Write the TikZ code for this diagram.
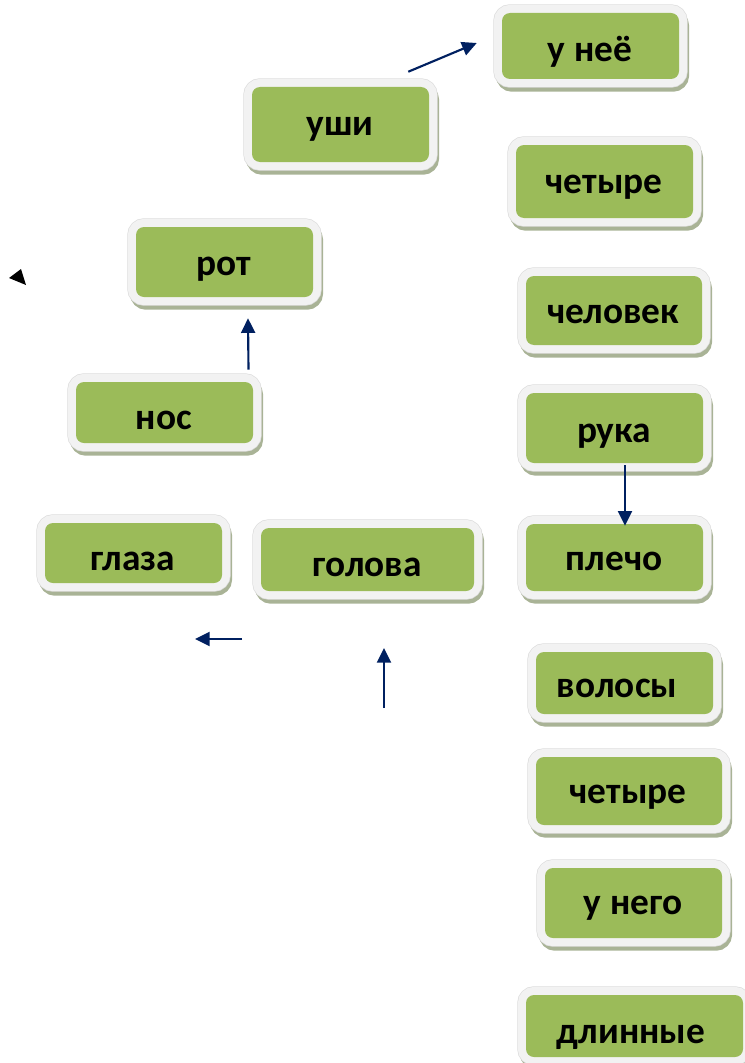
\documentclass[tikz,border=0pt]{standalone}
\usepackage{fontspec}
\setmainfont{Carlito}
\usetikzlibrary{arrows.meta,calc}
\definecolor{gcol}{HTML}{9BBB59}
\definecolor{frcol}{HTML}{F2F2F2}
\definecolor{edcol}{HTML}{DCDCDC}
\definecolor{shcol}{HTML}{A9B396}
\definecolor{arcol}{HTML}{002060}
\tikzset{
  gbox/.style={rectangle, rounded corners=6pt, fill=gcol, draw=none, inner sep=0pt,
    preaction={transform canvas={xshift=1.5pt,yshift=-3.5pt}, draw=shcol, fill=shcol, line width=12pt},
    preaction={draw=edcol, line width=13pt},
    preaction={draw=frcol, line width=12pt}},
  lbl/.style={inner sep=0pt, anchor=base, font=\fontsize{28}{32}\selectfont\bfseries},
  arr/.style={draw=arcol, line width=1.6pt, -{Triangle[length=11pt,width=10.5pt]}}
}
\newcommand\wbox[8]{%
  \pgfmathsetmacro\wbW{(#4-#2)*0.75}%
  \pgfmathsetmacro\wbH{(#5-#3)*0.75}%
  \node[gbox, minimum width=\wbW pt, minimum height=\wbH pt] (#1) at ({(#2+#4)/2},{(#3+#5)/2}) {};
  \node[lbl] (#1-t) at (#6,#7) {#8};
}
\begin{document}
\begin{tikzpicture}[x=0.75pt,y=-0.75pt]
\useasboundingbox (0,0) rectangle (745,1063);
\wbox{une}{502}{13}{679}{79}{590}{62}{у неё}
\wbox{ushi}{252}{87}{429}{162}{340}{135}{уши}
\wbox{chet1}{516}{145}{693}{218}{604}{193}{четыре}
\wbox{rot}{136}{227}{313}{297}{224}{275}{рот}
\wbox{chel}{526}{276}{702}{345}{613}{323}{человек}
\wbox{nos}{76}{382}{253}{443}{164}{429}{нос}
\wbox{ruka}{526}{393}{703}{463}{614}{442}{рука}
\wbox{glaza}{45}{523}{222}{583}{133}{570}{глаза}
\wbox{golova}{261}{528}{474}{591}{367}{576}{голова}
\wbox{plecho}{526}{524}{703}{591}{614}{570}{плечо}
\wbox{volosy}{536}{652}{713}{714}{617}{697}{волосы}
\wbox{chet2}{536}{757}{722}{825}{628}{803}{четыре}
\wbox{unego}{545}{868}{722}{938}{633}{914}{у него}
\wbox{dlin}{526}{995}{743}{1057}{631}{1043}{длинные}
% connectors
\draw[arr] ($(ushi.north east)+(-21,-15)$) -- ($(une.west)+(-25,-3)$);
\draw[arr] ($(nos.north)+(84,-12)$) -- ($(rot.south)+(23.5,21)$);
\draw[arr] ($(ruka.south)+(10.5,2)$) -- ($(plecho.north)+(10.5,2)$);
\coordinate (la1) at (242,639);
\coordinate (la2) at (195,639);
\draw[arr] (la1) -- (la2);
\coordinate (ua1) at (384,708);
\coordinate (ua2) at (384,648);
\draw[arr] (ua1) -- (ua2);
% stray arrowhead
\fill[black] (9,278) -- (21,269) -- (26,285) -- cycle;
\end{tikzpicture}
\end{document}
